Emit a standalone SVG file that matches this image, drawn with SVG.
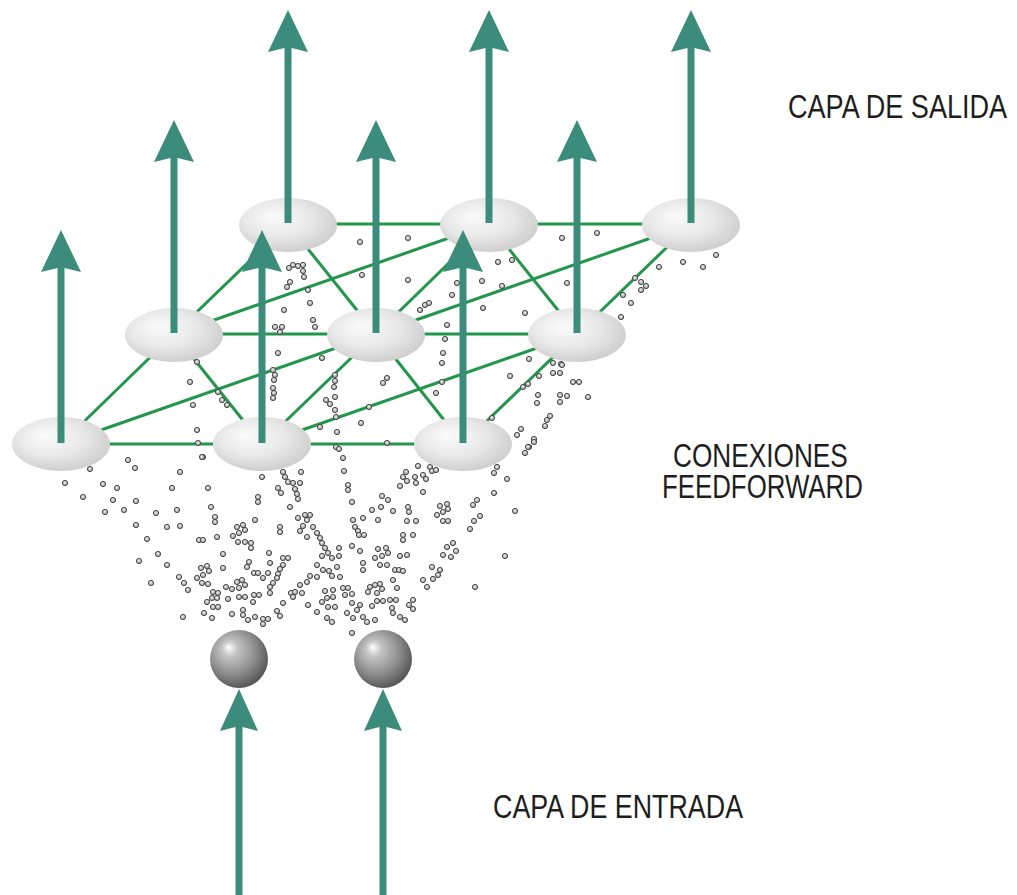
<svg xmlns="http://www.w3.org/2000/svg" xmlns:xlink="http://www.w3.org/1999/xlink" width="1017" height="895" viewBox="0 0 1017 895">
  <style>
    .lnk { stroke: #22964a; stroke-width: 3; fill: none; }
    .cell { fill: url(#eg); }
    .arw { fill: #3b8c7a; }
    .ball { fill: url(#sg); }
    .lbl { font-family: "Liberation Sans", Arial, sans-serif; font-size: 34px; fill: #1e1e1e; }
  </style>
  <defs>
    <radialGradient id="eg" cx="45%" cy="42%" r="62%" fx="33%" fy="35%">
      <stop offset="0" stop-color="#fbfbfb"/>
      <stop offset="0.55" stop-color="#e8e8e8"/>
      <stop offset="1" stop-color="#cbcbcb"/>
    </radialGradient>
    <radialGradient id="sg" cx="42%" cy="40%" r="62%" fx="32%" fy="30%">
      <stop offset="0" stop-color="#ffffff"/>
      <stop offset="0.22" stop-color="#c4c4c4"/>
      <stop offset="0.65" stop-color="#8c8c8c"/>
      <stop offset="1" stop-color="#555555"/>
    </radialGradient>
    <radialGradient id="dg" cx="45%" cy="40%" r="60%">
      <stop offset="0" stop-color="#eeeeee"/>
      <stop offset="1" stop-color="#9a9a9a"/>
    </radialGradient>
    <circle id="d" r="2.6" fill="url(#dg)" stroke="#474747" stroke-width="1"/>
  </defs>

  <!-- connections between the output cells -->
  <g id="connectors">
    <!-- rows -->
    <line class="lnk" x1="288" y1="224" x2="489" y2="224"/>
    <line class="lnk" x1="489" y1="224" x2="691" y2="224"/>
    <line class="lnk" x1="174" y1="334" x2="376" y2="334"/>
    <line class="lnk" x1="376" y1="334" x2="577" y2="334"/>
    <line class="lnk" x1="61" y1="444" x2="262" y2="444"/>
    <line class="lnk" x1="262" y1="444" x2="463" y2="444"/>
    <!-- columns -->
    <line class="lnk" x1="288" y1="224" x2="174" y2="334"/>
    <line class="lnk" x1="489" y1="224" x2="376" y2="334"/>
    <line class="lnk" x1="691" y1="224" x2="577" y2="334"/>
    <line class="lnk" x1="174" y1="334" x2="61" y2="444"/>
    <line class="lnk" x1="376" y1="334" x2="262" y2="444"/>
    <line class="lnk" x1="577" y1="334" x2="463" y2="444"/>
    <!-- short diagonals -->
    <line class="lnk" x1="288" y1="224" x2="376" y2="334"/>
    <line class="lnk" x1="489" y1="224" x2="577" y2="334"/>
    <line class="lnk" x1="174" y1="334" x2="262" y2="444"/>
    <line class="lnk" x1="376" y1="334" x2="463" y2="444"/>
    <!-- long diagonals -->
    <line class="lnk" x1="61" y1="444" x2="376" y2="334"/>
    <line class="lnk" x1="262" y1="444" x2="577" y2="334"/>
    <line class="lnk" x1="174" y1="334" x2="489" y2="224"/>
    <line class="lnk" x1="376" y1="334" x2="691" y2="224"/>
  </g>

  <!-- feedforward weights drawn as scattered beads -->
  <g id="feedforward">
    <use href="#d" x="293" y="265"/><use href="#d" x="298" y="266"/><use href="#d" x="303" y="265"/><use href="#d" x="303" y="271"/><use href="#d" x="304" y="277"/><use href="#d" x="289" y="268"/>
    <use href="#d" x="287" y="287"/><use href="#d" x="290" y="282"/><use href="#d" x="308" y="290"/><use href="#d" x="284" y="310"/><use href="#d" x="310" y="303"/><use href="#d" x="313" y="320"/>
    <use href="#d" x="315" y="327"/><use href="#d" x="275" y="327"/><use href="#d" x="282" y="327"/><use href="#d" x="280" y="332"/><use href="#d" x="278" y="353"/><use href="#d" x="273" y="370"/>
    <use href="#d" x="275" y="375"/><use href="#d" x="274" y="380"/><use href="#d" x="273" y="388"/><use href="#d" x="274" y="393"/><use href="#d" x="273" y="398"/><use href="#d" x="190" y="382"/>
    <use href="#d" x="197" y="362"/><use href="#d" x="193" y="405"/><use href="#d" x="218" y="392"/><use href="#d" x="222" y="400"/><use href="#d" x="227" y="405"/><use href="#d" x="197" y="430"/>
    <use href="#d" x="198" y="443"/><use href="#d" x="203" y="457"/><use href="#d" x="322" y="358"/><use href="#d" x="326" y="400"/><use href="#d" x="330" y="404"/><use href="#d" x="320" y="427"/>
    <use href="#d" x="335" y="375"/><use href="#d" x="335" y="381"/><use href="#d" x="334" y="387"/><use href="#d" x="335" y="397"/><use href="#d" x="335" y="410"/><use href="#d" x="336" y="417"/><use href="#d" x="337" y="432"/><use href="#d" x="336" y="447"/>
    <use href="#d" x="360" y="242"/><use href="#d" x="408" y="238"/><use href="#d" x="362" y="275"/><use href="#d" x="408" y="280"/><use href="#d" x="457" y="283"/><use href="#d" x="452" y="295"/>
    <use href="#d" x="420" y="310"/><use href="#d" x="425" y="305"/><use href="#d" x="429" y="303"/><use href="#d" x="482" y="281"/><use href="#d" x="498" y="262"/><use href="#d" x="512" y="260"/>
    <use href="#d" x="502" y="286"/><use href="#d" x="483" y="308"/><use href="#d" x="447" y="325"/><use href="#d" x="445" y="339"/><use href="#d" x="443" y="353"/><use href="#d" x="442" y="363"/>
    <use href="#d" x="442" y="382"/><use href="#d" x="436" y="393"/><use href="#d" x="562" y="238"/><use href="#d" x="597" y="233"/><use href="#d" x="567" y="283"/><use href="#d" x="525" y="313"/>
    <use href="#d" x="529" y="359"/><use href="#d" x="510" y="376"/><use href="#d" x="553" y="363"/><use href="#d" x="561" y="364"/><use href="#d" x="553" y="373"/><use href="#d" x="560" y="373"/>
    <use href="#d" x="528" y="384"/><use href="#d" x="523" y="387"/><use href="#d" x="539" y="376"/><use href="#d" x="538" y="395"/><use href="#d" x="537" y="403"/><use href="#d" x="560" y="395"/>
    <use href="#d" x="567" y="396"/><use href="#d" x="560" y="402"/><use href="#d" x="573" y="382"/><use href="#d" x="579" y="382"/><use href="#d" x="588" y="397"/><use href="#d" x="547" y="420"/>
    <use href="#d" x="550" y="416"/><use href="#d" x="545" y="426"/><use href="#d" x="521" y="429"/><use href="#d" x="517" y="435"/><use href="#d" x="534" y="439"/><use href="#d" x="529" y="447"/>
    <use href="#d" x="525" y="453"/><use href="#d" x="492" y="418"/><use href="#d" x="383" y="383"/><use href="#d" x="387" y="378"/><use href="#d" x="369" y="407"/><use href="#d" x="361" y="423"/>
    <use href="#d" x="387" y="443"/><use href="#d" x="635" y="278"/><use href="#d" x="641" y="282"/><use href="#d" x="646" y="286"/><use href="#d" x="641" y="290"/><use href="#d" x="631" y="303"/>
    <use href="#d" x="623" y="295"/><use href="#d" x="621" y="317"/><use href="#d" x="659" y="267"/><use href="#d" x="683" y="262"/><use href="#d" x="703" y="267"/><use href="#d" x="716" y="255"/>
    <use href="#d" x="562" y="365"/>

    <use href="#d" x="128" y="460"/><use href="#d" x="135" y="468"/><use href="#d" x="90" y="469"/><use href="#d" x="65" y="483"/><use href="#d" x="103" y="484"/><use href="#d" x="117" y="488"/>
    <use href="#d" x="83" y="497"/><use href="#d" x="113" y="500"/><use href="#d" x="136" y="501"/><use href="#d" x="180" y="472"/><use href="#d" x="202" y="457"/><use href="#d" x="172" y="488"/>
    <use href="#d" x="208" y="488"/><use href="#d" x="105" y="512"/><use href="#d" x="124" y="510"/><use href="#d" x="156" y="513"/><use href="#d" x="177" y="510"/><use href="#d" x="211" y="507"/>
    <use href="#d" x="136" y="525"/><use href="#d" x="167" y="527"/><use href="#d" x="180" y="526"/><use href="#d" x="215" y="517"/><use href="#d" x="215" y="522"/><use href="#d" x="147" y="539"/>
    <use href="#d" x="199" y="540"/><use href="#d" x="203" y="540"/><use href="#d" x="217" y="537"/><use href="#d" x="233" y="536"/><use href="#d" x="237" y="527"/><use href="#d" x="243" y="525"/>
    <use href="#d" x="245" y="530"/><use href="#d" x="239" y="533"/><use href="#d" x="238" y="542"/><use href="#d" x="245" y="542"/><use href="#d" x="251" y="543"/><use href="#d" x="251" y="548"/>
    <use href="#d" x="255" y="520"/><use href="#d" x="258" y="497"/><use href="#d" x="258" y="502"/><use href="#d" x="262" y="477"/><use href="#d" x="290" y="507"/><use href="#d" x="283" y="472"/>
    <use href="#d" x="285" y="477"/><use href="#d" x="288" y="482"/><use href="#d" x="278" y="488"/><use href="#d" x="281" y="493"/><use href="#d" x="280" y="527"/><use href="#d" x="280" y="532"/>
    <use href="#d" x="158" y="554"/><use href="#d" x="139" y="561"/><use href="#d" x="167" y="565"/><use href="#d" x="223" y="554"/><use href="#d" x="223" y="568"/><use href="#d" x="201" y="568"/>
    <use href="#d" x="207" y="566"/><use href="#d" x="209" y="571"/><use href="#d" x="197" y="578"/><use href="#d" x="203" y="575"/><use href="#d" x="179" y="577"/><use href="#d" x="184" y="583"/>
    <use href="#d" x="151" y="583"/><use href="#d" x="188" y="590"/><use href="#d" x="202" y="583"/><use href="#d" x="208" y="584"/><use href="#d" x="249" y="562"/><use href="#d" x="247" y="567"/>
    <use href="#d" x="269" y="553"/><use href="#d" x="270" y="563"/><use href="#d" x="283" y="558"/><use href="#d" x="288" y="558"/><use href="#d" x="283" y="565"/><use href="#d" x="280" y="569"/>
    <use href="#d" x="278" y="574"/><use href="#d" x="277" y="578"/><use href="#d" x="273" y="583"/><use href="#d" x="270" y="587"/><use href="#d" x="254" y="573"/><use href="#d" x="258" y="573"/>
    <use href="#d" x="263" y="578"/><use href="#d" x="268" y="573"/><use href="#d" x="237" y="582"/><use href="#d" x="242" y="580"/><use href="#d" x="245" y="585"/><use href="#d" x="226" y="587"/>
    <use href="#d" x="232" y="589"/><use href="#d" x="239" y="588"/><use href="#d" x="213" y="592"/><use href="#d" x="218" y="593"/><use href="#d" x="212" y="598"/><use href="#d" x="217" y="598"/>
    <use href="#d" x="207" y="602"/><use href="#d" x="213" y="607"/><use href="#d" x="218" y="607"/><use href="#d" x="228" y="599"/><use href="#d" x="239" y="597"/><use href="#d" x="245" y="597"/>
    <use href="#d" x="254" y="595"/><use href="#d" x="259" y="595"/><use href="#d" x="253" y="602"/><use href="#d" x="270" y="593"/><use href="#d" x="283" y="603"/><use href="#d" x="291" y="593"/>
    <use href="#d" x="295" y="592"/><use href="#d" x="293" y="597"/><use href="#d" x="204" y="613"/><use href="#d" x="212" y="618"/><use href="#d" x="183" y="617"/><use href="#d" x="232" y="614"/>
    <use href="#d" x="243" y="610"/><use href="#d" x="243" y="615"/><use href="#d" x="248" y="620"/><use href="#d" x="255" y="617"/><use href="#d" x="263" y="619"/><use href="#d" x="268" y="619"/>
    <use href="#d" x="263" y="624"/><use href="#d" x="277" y="611"/><use href="#d" x="280" y="616"/>

    <use href="#d" x="339" y="449"/><use href="#d" x="343" y="458"/><use href="#d" x="344" y="471"/><use href="#d" x="348" y="485"/><use href="#d" x="348" y="490"/><use href="#d" x="352" y="502"/>
    <use href="#d" x="301" y="472"/><use href="#d" x="293" y="483"/><use href="#d" x="300" y="483"/><use href="#d" x="295" y="489"/><use href="#d" x="297" y="494"/><use href="#d" x="298" y="499"/>
    <use href="#d" x="418" y="466"/><use href="#d" x="406" y="472"/><use href="#d" x="403" y="477"/><use href="#d" x="407" y="481"/><use href="#d" x="400" y="486"/><use href="#d" x="415" y="477"/>
    <use href="#d" x="416" y="483"/><use href="#d" x="423" y="475"/><use href="#d" x="426" y="479"/><use href="#d" x="430" y="467"/><use href="#d" x="432" y="471"/><use href="#d" x="436" y="470"/>
    <use href="#d" x="423" y="492"/><use href="#d" x="382" y="496"/><use href="#d" x="388" y="500"/><use href="#d" x="372" y="510"/><use href="#d" x="381" y="507"/><use href="#d" x="393" y="511"/>
    <use href="#d" x="408" y="507"/><use href="#d" x="409" y="512"/><use href="#d" x="378" y="520"/><use href="#d" x="407" y="521"/><use href="#d" x="416" y="521"/><use href="#d" x="440" y="506"/>
    <use href="#d" x="447" y="504"/><use href="#d" x="448" y="509"/><use href="#d" x="443" y="512"/><use href="#d" x="437" y="515"/><use href="#d" x="443" y="521"/><use href="#d" x="448" y="521"/>
    <use href="#d" x="473" y="505"/><use href="#d" x="477" y="500"/><use href="#d" x="494" y="473"/><use href="#d" x="497" y="467"/><use href="#d" x="507" y="479"/><use href="#d" x="494" y="493"/>
    <use href="#d" x="528" y="447"/><use href="#d" x="515" y="511"/><use href="#d" x="480" y="516"/><use href="#d" x="474" y="521"/><use href="#d" x="470" y="529"/><use href="#d" x="505" y="556"/>
    <use href="#d" x="475" y="587"/><use href="#d" x="298" y="518"/><use href="#d" x="305" y="515"/><use href="#d" x="310" y="515"/><use href="#d" x="303" y="526"/><use href="#d" x="307" y="520"/>
    <use href="#d" x="313" y="527"/><use href="#d" x="300" y="531"/><use href="#d" x="307" y="537"/><use href="#d" x="317" y="533"/><use href="#d" x="320" y="538"/><use href="#d" x="322" y="543"/>
    <use href="#d" x="325" y="548"/><use href="#d" x="322" y="556"/><use href="#d" x="328" y="553"/><use href="#d" x="332" y="558"/><use href="#d" x="339" y="556"/><use href="#d" x="339" y="548"/>
    <use href="#d" x="353" y="520"/><use href="#d" x="355" y="527"/><use href="#d" x="358" y="531"/><use href="#d" x="359" y="535"/><use href="#d" x="364" y="535"/><use href="#d" x="363" y="518"/>
    <use href="#d" x="352" y="546"/><use href="#d" x="360" y="551"/><use href="#d" x="378" y="549"/><use href="#d" x="386" y="548"/><use href="#d" x="388" y="553"/><use href="#d" x="375" y="558"/>
    <use href="#d" x="382" y="556"/><use href="#d" x="363" y="563"/><use href="#d" x="363" y="570"/><use href="#d" x="380" y="565"/><use href="#d" x="387" y="565"/><use href="#d" x="403" y="535"/>
    <use href="#d" x="403" y="540"/><use href="#d" x="413" y="535"/><use href="#d" x="400" y="556"/><use href="#d" x="407" y="555"/><use href="#d" x="395" y="570"/><use href="#d" x="399" y="570"/>
    <use href="#d" x="403" y="571"/><use href="#d" x="447" y="547"/><use href="#d" x="453" y="543"/><use href="#d" x="456" y="551"/><use href="#d" x="443" y="555"/><use href="#d" x="451" y="557"/>
    <use href="#d" x="432" y="567"/><use href="#d" x="440" y="570"/><use href="#d" x="438" y="575"/><use href="#d" x="433" y="579"/><use href="#d" x="423" y="580"/><use href="#d" x="427" y="587"/>
    <use href="#d" x="317" y="565"/><use href="#d" x="323" y="570"/><use href="#d" x="329" y="571"/><use href="#d" x="337" y="567"/><use href="#d" x="332" y="576"/><use href="#d" x="340" y="577"/>
    <use href="#d" x="310" y="576"/><use href="#d" x="317" y="577"/><use href="#d" x="307" y="582"/><use href="#d" x="300" y="585"/><use href="#d" x="302" y="593"/>
    <use href="#d" x="325" y="591"/><use href="#d" x="333" y="590"/><use href="#d" x="343" y="588"/><use href="#d" x="348" y="588"/><use href="#d" x="352" y="594"/><use href="#d" x="345" y="595"/>
    <use href="#d" x="333" y="597"/><use href="#d" x="327" y="598"/><use href="#d" x="322" y="602"/><use href="#d" x="328" y="607"/><use href="#d" x="335" y="607"/><use href="#d" x="308" y="605"/>
    <use href="#d" x="317" y="612"/><use href="#d" x="370" y="587"/><use href="#d" x="375" y="585"/><use href="#d" x="380" y="584"/><use href="#d" x="382" y="589"/><use href="#d" x="368" y="592"/>
    <use href="#d" x="377" y="593"/><use href="#d" x="393" y="580"/><use href="#d" x="397" y="588"/><use href="#d" x="377" y="601"/><use href="#d" x="383" y="601"/><use href="#d" x="390" y="600"/>
    <use href="#d" x="396" y="600"/><use href="#d" x="413" y="600"/><use href="#d" x="409" y="605"/><use href="#d" x="413" y="609"/><use href="#d" x="352" y="603"/><use href="#d" x="360" y="605"/>
    <use href="#d" x="372" y="606"/><use href="#d" x="357" y="610"/><use href="#d" x="347" y="613"/><use href="#d" x="353" y="618"/><use href="#d" x="363" y="617"/><use href="#d" x="367" y="622"/>
    <use href="#d" x="375" y="620"/><use href="#d" x="392" y="608"/><use href="#d" x="393" y="613"/><use href="#d" x="400" y="617"/><use href="#d" x="405" y="620"/><use href="#d" x="327" y="618"/>
    <use href="#d" x="332" y="622"/><use href="#d" x="352" y="633"/><use href="#d" x="534" y="442"/>
  </g>

  <!-- output layer: back row -->
  <g id="out-b0">
    <ellipse class="cell" cx="288" cy="225" rx="49" ry="27"/>
    <path class="arw" d="M288 10 L308 52 L291.5 48 V223 H284.5 V48 L268 52 Z"/>
  </g>
  <g id="out-b1">
    <ellipse class="cell" cx="489" cy="225" rx="49" ry="27"/>
    <path class="arw" d="M489 10 L509 52 L492.5 48 V223 H485.5 V48 L469 52 Z"/>
  </g>
  <g id="out-b2">
    <ellipse class="cell" cx="691" cy="225" rx="49" ry="27"/>
    <path class="arw" d="M691 10 L711 52 L694.5 48 V223 H687.5 V48 L671 52 Z"/>
  </g>

  <!-- output layer: middle row -->
  <g id="out-m0">
    <ellipse class="cell" cx="174" cy="335" rx="49" ry="27"/>
    <path class="arw" d="M174 120 L194 162 L177.5 158 V333 H170.5 V158 L154 162 Z"/>
  </g>
  <g id="out-m1">
    <ellipse class="cell" cx="376" cy="335" rx="49" ry="27"/>
    <path class="arw" d="M376 120 L396 162 L379.5 158 V333 H372.5 V158 L356 162 Z"/>
  </g>
  <g id="out-m2">
    <ellipse class="cell" cx="577" cy="335" rx="49" ry="27"/>
    <path class="arw" d="M577 120 L597 162 L580.5 158 V333 H573.5 V158 L557 162 Z"/>
  </g>

  <!-- output layer: front row -->
  <g id="out-f0">
    <ellipse class="cell" cx="61" cy="444" rx="49" ry="27"/>
    <path class="arw" d="M61 230 L81 272 L64.5 268 V443 H57.5 V268 L41 272 Z"/>
  </g>
  <g id="out-f1">
    <ellipse class="cell" cx="262" cy="444" rx="49" ry="27"/>
    <path class="arw" d="M262 230 L282 272 L265.5 268 V443 H258.5 V268 L242 272 Z"/>
  </g>
  <g id="out-f2">
    <ellipse class="cell" cx="463" cy="444" rx="49" ry="27"/>
    <path class="arw" d="M463 230 L483 272 L466.5 268 V443 H459.5 V268 L443 272 Z"/>
  </g>

  <!-- input layer -->
  <g id="in-0">
    <circle class="ball" cx="239" cy="659" r="29"/>
    <path class="arw" d="M239 689 L258 731 L242.5 727 V895 H235.5 V727 L220 731 Z"/>
  </g>
  <g id="in-1">
    <circle class="ball" cx="383" cy="659" r="29"/>
    <path class="arw" d="M383 689 L402 731 L386.5 727 V895 H379.5 V727 L364 731 Z"/>
  </g>

  <!-- labels: condensed by a horizontal scale -->
  <g id="labels">
    <text class="lbl" transform="translate(788 118) scale(0.78 1)" textLength="281" lengthAdjust="spacingAndGlyphs">CAPA DE SALIDA</text>
    <text class="lbl" transform="translate(673 467) scale(0.77 1)" textLength="227" lengthAdjust="spacingAndGlyphs">CONEXIONES</text>
    <text class="lbl" transform="translate(662 498) scale(0.755 1)" textLength="266" lengthAdjust="spacingAndGlyphs">FEEDFORWARD</text>
    <text class="lbl" transform="translate(493 818) scale(0.742 1)" textLength="337" lengthAdjust="spacingAndGlyphs">CAPA DE ENTRADA</text>
  </g>
</svg>
